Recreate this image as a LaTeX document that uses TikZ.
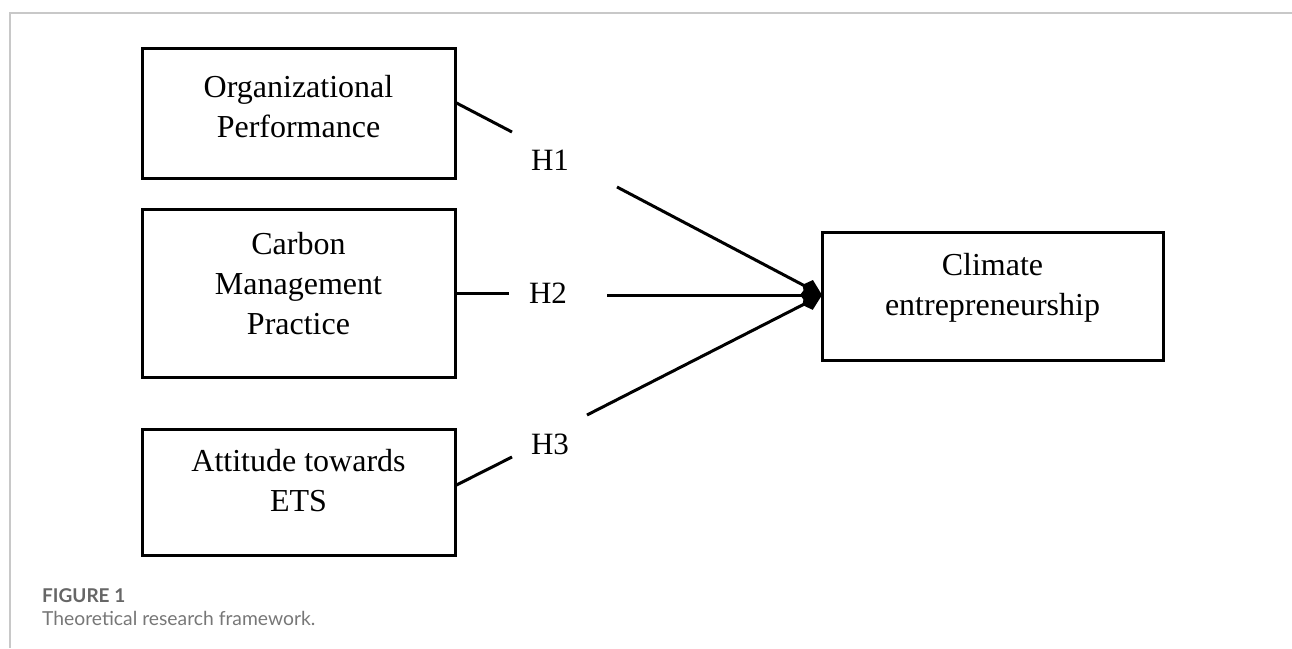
\documentclass[tikz,border=0pt]{standalone}
\usepackage{fontspec}
\setmainfont{Liberation Serif}
\newfontfamily\capfont{Lato}
\usetikzlibrary{arrows.meta}
\definecolor{framegray}{HTML}{C8C8C8}
\definecolor{capdark}{HTML}{666666}
\definecolor{caplight}{HTML}{777777}
\tikzset{
  box/.style={draw=black, line width=3pt, minimum width=313pt, inner sep=0pt},
  boxtext/.style={align=center, font=\fontsize{32}{40}\selectfont, inner sep=0pt, anchor=base},
  hlabel/.style={font=\fontsize{31}{36}\selectfont, inner sep=0pt, anchor=base},
  conn/.style={line width=3pt},
  arr/.style={line width=3pt, -{Kite[length=22pt,width=18pt,inset=7pt,line width=0pt]}},
  framestyle/.style={draw=framegray, line width=1.5pt}
}
\begin{document}
\begin{tikzpicture}[x=1pt,y=-1pt]
\useasboundingbox (0,0) rectangle (1292,648);
% page frame
\coordinate (fr1) at (1292,13);
\coordinate (fr2) at (10,13);
\coordinate (fr3) at (10,648);
\draw[framestyle] (fr1) -- (fr2) -- (fr3);
% boxes
\node[box, minimum height=130pt] (op) at (298.5,113) {};
\node[box, minimum height=168pt] (cm) at (298.5,293) {};
\node[box, minimum height=126pt] (at) at (298.5,492) {};
\node[box, minimum width=341pt, minimum height=128pt] (ce) at (992.5,296) {};
% box texts (base = baseline of last line)
\node[boxtext] (opt) at (298.5,137) {Organizational\\Performance};
\node[boxtext] (cmt) at (298.5,334) {Carbon\\Management\\Practice};
\node[boxtext] (att) at (298.5,511) {Attitude towards\\ETS};
\node[boxtext] (cet) at (992.5,315) {Climate\\entrepreneurship};
% hypothesis labels
\node[hlabel] (h1) at (550,170) {H1};
\node[hlabel] (h2) at (548,303) {H2};
\node[hlabel] (h3) at (550,454) {H3};
% connectors
\coordinate (a1) at (455,103);
\coordinate (a2) at (512,132);
\coordinate (a3) at (617,187);
\coordinate (b1) at (509,293);
\coordinate (b2) at (607,295);
\coordinate (c1) at (455,485);
\coordinate (c2) at (512,457);
\coordinate (c3) at (587,415);
\coordinate (tip) at (822,295);
\draw[conn] (op.east |- a1) -- (a2);
\draw[arr] (a3) -- (tip);
\draw[conn] (cm.east |- b1) -- (b1);
\draw[arr] (b2) -- (tip);
\draw[conn] (at.east |- c1) -- (c2);
\draw[arr] (c3) -- (tip);
% caption
\node[anchor=base west, inner sep=0pt, font=\capfont\bfseries\fontsize{19}{23}\selectfont, text=capdark] (fig) at (42,602) {FIGURE 1};
\node[anchor=base west, inner sep=0pt, font=\capfont\fontsize{19.3}{23}\selectfont, text=caplight] (capt) at (42,625) {Theoretical research framework.};
\end{tikzpicture}
\end{document}
